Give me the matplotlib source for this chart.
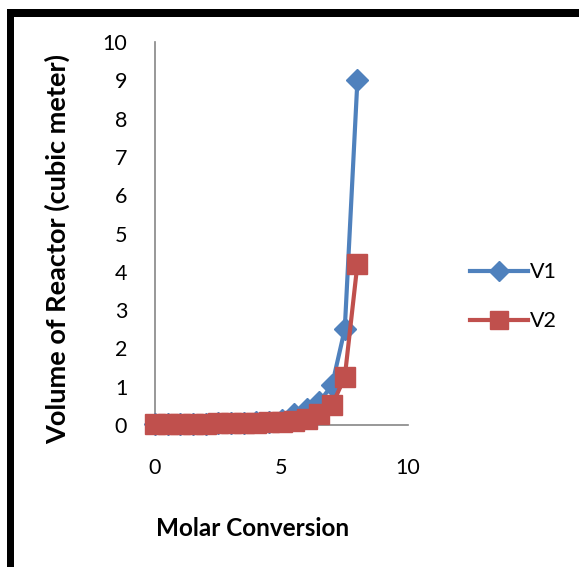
import matplotlib
matplotlib.use("Agg")
import matplotlib.pyplot as plt
from matplotlib.patches import Rectangle

# conversion steps and the two reactor volumes
conversion = [0, 0.5, 1, 1.5, 2, 2.5, 3, 3.5, 4, 4.5, 5, 5.5, 6, 6.5, 7, 7.5, 8]
v1 = [0.02, 0.02, 0.03, 0.03, 0.03, 0.04, 0.05, 0.06, 0.07, 0.09, 0.13,
      0.28, 0.42, 0.60, 1.05, 2.5, 9.0]
v2 = [0.02, 0.02, 0.03, 0.03, 0.03, 0.04, 0.04, 0.05, 0.06, 0.07, 0.08,
      0.11, 0.16, 0.30, 0.52, 1.25, 4.2]

x_ticks = [0, 5, 10]
y_ticks = list(range(0, 11))

BLUE = "#4F81BD"
RED = "#C0504D"
AXIS = "#868686"

plt.rcParams["font.family"] = ["Lato", "DejaVu Sans"]

fig = plt.figure(figsize=(5.79, 5.67), dpi=100, facecolor="white")
ax = fig.add_axes([0.2677, 0.2504, 0.437, 0.6755])

ax.plot(conversion, v1, color=BLUE, lw=3, marker="D", ms=11,
        mec=BLUE, mfc=BLUE, label="V1", clip_on=False, zorder=3)
ax.plot(conversion, v2, color=RED, lw=3, marker="s", ms=14.5,
        mec=RED, mfc=RED, label="V2", clip_on=False, zorder=4)

ax.set_xlim(0, 10)
ax.set_ylim(0, 10)
ax.set_xticks(x_ticks)
ax.set_yticks(y_ticks)
ax.tick_params(axis="y", length=0, pad=20, labelsize=15.5)
ax.tick_params(axis="x", length=0, pad=24, labelsize=15.5)

for side in ("top", "right"):
    ax.spines[side].set_visible(False)
for side in ("left", "bottom"):
    ax.spines[side].set_color(AXIS)
    ax.spines[side].set_linewidth(1.2)

ax.set_xlabel("Molar Conversion", fontsize=17.5, fontweight="bold")
ax.set_ylabel("Volume of Reactor (cubic meter)", fontsize=19.5,
              fontweight="bold")
ax.xaxis.set_label_coords(0.385, -0.27)
ax.yaxis.set_label_coords(-0.385, 0.46)
ax.xaxis.label.set_va("center")
ax.yaxis.label.set_va("center")

ax.legend(loc="center left", bbox_to_anchor=(1.21, 0.335), frameon=False,
          fontsize=15.5, numpoints=1, handlelength=2.7, labelspacing=1.35,
          handletextpad=0.1, borderaxespad=0, markerscale=0.9)

# thick black frame along the top and left edges
fig.add_artist(Rectangle((0.012, 0.970), 0.988, 0.014, transform=fig.transFigure,
                         color="black", lw=0))
fig.add_artist(Rectangle((0.012, 0.0), 0.0125, 0.984, transform=fig.transFigure,
                         color="black", lw=0))

fig.savefig("out.png", dpi=100, facecolor="white")
